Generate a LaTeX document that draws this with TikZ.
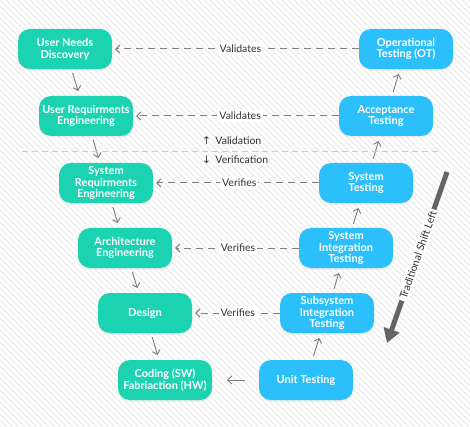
\documentclass[tikz,border=0pt]{standalone}
\usepackage{fontspec}
\setmainfont{Lato}
\newfontfamily\arrowfont{DejaVu Sans}
\usetikzlibrary{arrows.meta, shadows}
\definecolor{myteal}{RGB}{28, 211, 177}
\definecolor{myblue}{RGB}{43, 191, 251}
\definecolor{mygray1}{RGB}{125, 125, 125}
\definecolor{mygray2}{RGB}{205, 205, 205}
\definecolor{mygray3}{RGB}{100, 100, 100}
\definecolor{myhatch}{RGB}{240, 240, 240}
\tikzset{
  stage/.style={rounded corners=12pt, minimum width=94pt, minimum height=40pt, inner sep=2pt,
    align=center, text=white, font=\fontsize{11}{11.8}\selectfont\bfseries,
    drop shadow={opacity=0.12, shadow xshift=0pt, shadow yshift=-1.5pt}},
  devbox/.style={stage, fill=myteal},
  testbox/.style={stage, fill=myblue},
  flow/.style={draw=mygray1, line width=0.9pt, -{Straight Barb[length=4pt, width=8pt]},
    shorten <=4pt, shorten >=5pt},
  check/.style={draw=mygray1, line width=1pt, dash pattern=on 7pt off 5pt,
    -{Straight Barb[length=4pt, width=8pt]}, shorten >=3pt},
  note/.style={text=black!80, font=\fontsize{10.5}{12}\selectfont},
  checklbl/.style={note, fill=white, inner sep=2pt, pos=0.48},
  shiftarrow/.style={draw=mygray3, line width=5pt, -{Triangle[length=14pt, width=16pt]}}
}

\begin{document}
\begin{tikzpicture}[x=1pt, y=-1pt]
\useasboundingbox (0,0) rectangle (470,427);
% background hatch
\fill[white] (0,0) rectangle (470,427);
\begin{scope}
\clip (0,0) rectangle (470,427);
\foreach \i in {-432,-426,...,470}
  \draw[myhatch, line width=1.5pt] (\i,0) -- ++(427,427);
\end{scope}

% development side
\node[devbox] (und) at (65,49) {User Needs\\Discovery};
\node[devbox] (ure) at (86,116) {User Requirments\\Engineering};
\node[devbox] (sre) at (106,183) {System\\Requirments\\Engineering};
\node[devbox] (arch) at (125,248) {Architecture\\Engineering};
\node[devbox] (des) at (145,313) {Design};
\node[devbox] (code) at (165,380) {Coding (SW)\\Fabriaction (HW)};

% testing side
\node[testbox] (ot) at (406,49) {Operational\\Testing (OT)};
\node[testbox] (acc) at (386,116) {Acceptance\\Testing};
\node[testbox] (syst) at (366,183) {System\\Testing};
\node[testbox] (sit) at (346,248) {System\\Integration\\Testing};
\node[testbox] (ssit) at (327,313) {Subsystem\\Integration\\Testing};
\node[testbox] (unit) at (306,380) {Unit Testing};

% flow down and up
\draw[flow] (und) -- (ure);
\draw[flow] (ure) -- (sre);
\draw[flow] (sre) -- (arch);
\draw[flow] (arch) -- (des);
\draw[flow] (des) -- (code);
\draw[flow] (unit) -- (ssit);
\draw[flow] (ssit) -- (sit);
\draw[flow] (sit) -- (syst);
\draw[flow] (syst) -- (acc);
\draw[flow] (acc) -- (ot);
\draw[flow, shorten <=14pt, shorten >=15pt] (unit) -- (code);

% validation / verification line
\coordinate (divl) at (22,151);
\coordinate (divr) at (440,151);
\draw[mygray2, line width=0.8pt, dash pattern=on 6pt off 4pt] (divl) -- (divr);
\node[note, anchor=west, inner sep=0pt] (valid) at (202,141) {{\arrowfont\char"2191}\, Validation};
\node[note, anchor=west, inner sep=0pt] (verif) at (202,160) {{\arrowfont\char"2193}\, Verification};

% checks
\draw[check] (ot) -- node[checklbl] {Validates} (und);
\draw[check] (acc) -- node[checklbl] {Validates} (ure);
\draw[check] (syst) -- node[checklbl] {Verifies} (sre);
\draw[check] (sit) -- node[checklbl] {Verifies} (arch);
\draw[check] (ssit) -- node[checklbl] {Verifies} (des);

% shift left
\coordinate (shifttop) at (447,172);
\coordinate (shifttip) at (387,343);
\draw[shiftarrow] (shifttop) -- (shifttip);
\node[note, fill=white, inner sep=2pt, rotate=70.7] (shiftlbl) at (418,255) {Traditional Shift Left};
\end{tikzpicture}
\end{document}
